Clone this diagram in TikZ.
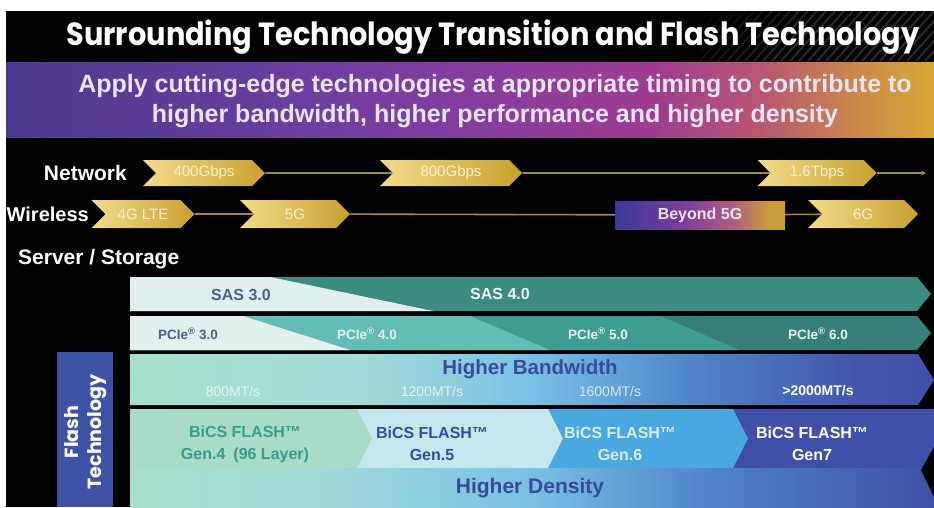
\documentclass[tikz,border=0pt]{standalone}
\usepackage{fontspec}
\setmainfont{Liberation Sans}
\newfontfamily\titlefont[FakeStretch=0.9]{Poppins}
\newfontfamily\sidefont{Poppins}
\usetikzlibrary{shapes.symbols,arrows.meta}

\definecolor{pb1}{HTML}{4B3A8C}
\definecolor{pb2}{HTML}{6B3EA0}
\definecolor{pb3}{HTML}{8A3D9E}
\definecolor{pb4}{HTML}{A03C90}
\definecolor{pb5}{HTML}{B85A70}
\definecolor{pb6}{HTML}{CC8A48}
\definecolor{pb7}{HTML}{D8A838}
\definecolor{subtext}{HTML}{ECE4F4}
\definecolor{goldL}{HTML}{F2DC8A}
\definecolor{goldR}{HTML}{C9A030}
\definecolor{goldtext}{HTML}{FBF2CC}
\definecolor{goldlinec}{HTML}{A08A40}
\definecolor{by1}{HTML}{3A3A96}
\definecolor{by2}{HTML}{7A3C9C}
\definecolor{by3}{HTML}{B06080}
\definecolor{by4}{HTML}{C89C38}
\definecolor{saslight}{HTML}{DFF0EE}
\definecolor{sasdark}{HTML}{3D8A80}
\definecolor{pcielight}{HTML}{E2F0EE}
\definecolor{pciefour}{HTML}{64BDB4}
\definecolor{pciefive}{HTML}{3E9C90}
\definecolor{pciesix}{HTML}{357F78}
\definecolor{slatetext}{HTML}{4D5F8E}
\definecolor{bw1}{HTML}{A6E0CC}
\definecolor{bw2}{HTML}{A4DCD8}
\definecolor{bw3}{HTML}{78C0E4}
\definecolor{bw4}{HTML}{4F84C8}
\definecolor{bw5}{HTML}{4356AD}
\definecolor{bw6}{HTML}{4050A8}
\definecolor{genfour}{HTML}{A8DCC8}
\definecolor{genfive}{HTML}{C4E8EE}
\definecolor{gensix}{HTML}{4AA8E0}
\definecolor{genseven}{HTML}{3E50A8}
\definecolor{navytext}{HTML}{3A4B9E}
\definecolor{tealtext}{HTML}{3A9D8C}
\definecolor{flashblue}{HTML}{3E52A6}

\pgfdeclarehorizontalshading{purpleband}{100bp}{color(0bp)=(pb1); color(25bp)=(pb1); color(41bp)=(pb2); color(52bp)=(pb3); color(60bp)=(pb4); color(66bp)=(pb5); color(71bp)=(pb6); color(75bp)=(pb7); color(100bp)=(pb7)}
\pgfdeclarehorizontalshading{beyondband}{100bp}{color(0bp)=(by1); color(25bp)=(by1); color(45bp)=(by2); color(60bp)=(by3); color(70bp)=(by4); color(75bp)=(by4); color(100bp)=(by4)}
\pgfdeclarehorizontalshading{bandwidthband}{100bp}{color(0bp)=(bw1); color(25bp)=(bw1); color(39bp)=(bw2); color(50bp)=(bw3); color(60bp)=(bw4); color(70bp)=(bw5); color(75bp)=(bw6); color(100bp)=(bw6)}
\pgfdeclarehorizontalshading{densityband}{100bp}{color(0bp)=(bw1); color(25bp)=(bw1); color(36bp)=(bw2); color(50bp)=(bw3); color(61bp)=(bw4); color(75bp)=(bw6); color(100bp)=(bw6)}

\pgfdeclarelayer{bgfill}
\pgfdeclarelayer{back}
\pgfsetlayers{bgfill,back,main}

\tikzset{
	rowlabel/.style={text=white, font=\fontsize{20}{22}\selectfont\bfseries, inner sep=0pt},
	goldarrow/.style={signal, signal to=east, signal from=west, signal pointer angle=90,
		left color=goldL, right color=goldR, text=goldtext, minimum height=26pt, inner sep=0pt,
		font=\fontsize{15}{17}\selectfont},
	goldline/.style={draw=goldlinec, line width=1.6pt},
	hatchline/.style={draw=white!16!black, line width=2pt},
	bandtext/.style={font=\fontsize{16}{18}\selectfont\bfseries, inner sep=0pt},
	ratetext/.style={font=\fontsize{14}{16}\selectfont, inner sep=0pt},
	gentext/.style={font=\fontsize{16}{22}\selectfont\bfseries, align=center, inner sep=0pt},
}

\begin{document}
\begin{tikzpicture}[x=1pt,y=-1pt]
		\useasboundingbox (0,0) rectangle (934,507);
		\begin{pgfonlayer}{bgfill}
			\fill[white] (0,0) rectangle (934,507);
			\fill[black] (6,11) rectangle (934,507);
		\end{pgfonlayer}
		
		% title
		\begin{scope}
			\clip (700,11) rectangle (934,61);
			\foreach \x in {700,709,...,1000}
				\draw[hatchline, opacity={min(1,(\x-700)/120)}] (\x,11) -- ++(-45,50);
		\end{scope}
		\node (title) at (493,37) {\titlefont\bfseries\fontsize{32}{34}\selectfont\color{white}Surrounding Technology Transition and Flash Technology};
		
		\shade[shading=purpleband] (6,62) rectangle (934,137);
		\node[text=subtext, align=center, font=\fontsize{25}{30}\selectfont\bfseries] (subtitle) at (495,101) {Apply cutting-edge technologies at appropriate timing to contribute to\\higher bandwidth, higher performance and higher density};
		
		% network / wireless
		\node[rowlabel, anchor=east, font=\fontsize{21}{22}\selectfont\bfseries] (network) at (127,173) {Network};
		\node[goldarrow, minimum width=122pt] (n400) at (204,173) {400Gbps};
		\node[goldarrow, minimum width=142pt] (n800) at (451,173) {800Gbps};
		\node[goldarrow, minimum width=119pt] (n16t) at (817,173) {1.6Tbps};
		\coordinate (netend) at (926,173);
		
		\node[rowlabel, anchor=east] (wireless) at (89,214) {Wireless};
		\node[goldarrow, minimum width=103pt, minimum height=28pt] (w4g) at (143,214) {4G LTE};
		\node[goldarrow, minimum width=110pt, minimum height=28pt] (w5g) at (295,214) {5G};
		\node[shading=beyondband, minimum width=170pt, minimum height=28pt, inner sep=0pt, text=subtext, font=\fontsize{16}{18}\selectfont\bfseries] (wbeyond) at (700,215) {Beyond 5G};
		\node[goldarrow, minimum width=110pt, minimum height=28pt] (w6g) at (863,214) {6G};
		
		\begin{pgfonlayer}{back}
			\draw[goldline] (n400) -- (n800) -- (n16t);
			\draw[goldline] (w4g) -- (w5g) -- (wbeyond) -- (w6g);
		\end{pgfonlayer}
		\draw[goldline, -{Stealth[length=5pt,width=5pt]}] (n16t.east) -- (netend);
		
		\node[rowlabel, anchor=west, font=\fontsize{21}{22}\selectfont\bfseries] (server) at (18,259) {Server / Storage};
		
		% SAS
		\fill[sasdark] (130,277) -- (917,277) -- (931,294) -- (917,311) -- (130,311) -- cycle;
		\fill[saslight] (130,277) -- (270,277) -- (433,311) -- (130,311) -- cycle;
		\node[bandtext, text=slatetext] (sas3) at (241,295) {SAS 3.0};
		\node[bandtext, text=white!92!sasdark] (sas4) at (500,294) {SAS 4.0};
		
		% PCIe
		\fill[pciesix] (130,316) -- (917,316) -- (931,333) -- (917,350) -- (130,350) -- cycle;
		\fill[pciefive] (130,316) -- (660,316) -- (740,350) -- (130,350) -- cycle;
		\fill[pciefour] (130,316) -- (470,316) -- (550,350) -- (130,350) -- cycle;
		\fill[pcielight] (130,316) -- (243,316) -- (350,350) -- (130,350) -- cycle;
		\node[bandtext, text=slatetext, font=\fontsize{13.5}{16}\selectfont\bfseries] (pcie3) at (188,334) {PCIe\textsuperscript{\textregistered} 3.0};
		\node[bandtext, text=white!80!pciefour, font=\fontsize{13.5}{16}\selectfont\bfseries] (pcie4) at (367,334) {PCIe\textsuperscript{\textregistered} 4.0};
		\node[bandtext, text=white!92!pciefive, font=\fontsize{13.5}{16}\selectfont\bfseries] (pcie5) at (598,334) {PCIe\textsuperscript{\textregistered} 5.0};
		\node[bandtext, text=white!92!pciesix, font=\fontsize{13.5}{16}\selectfont\bfseries] (pcie6) at (818,334) {PCIe\textsuperscript{\textregistered} 6.0};
		
		% flash technology
		\fill[flashblue] (57,352) rectangle (113,507);
		\node[rotate=90, align=center, text=white, font=\sidefont\bfseries\fontsize{19}{23}\selectfont] (flashtech) at (86,432) {Flash\\Technology};
		
		\shade[shading=bandwidthband] (130,354) -- (918,354) -- (934,380) -- (918,405) -- (130,405) -- cycle;
		\node[text=navytext, font=\fontsize{20.5}{22}\selectfont\bfseries] (bandwidth) at (530,369) {Higher Bandwidth};
		\node[ratetext, text=white!70!bw1] (mt800) at (233,391) {800MT/s};
		\node[ratetext, text=white!70!bw2] (mt1200) at (432,391) {1200MT/s};
		\node[ratetext, text=white!70!bw3] (mt1600) at (610,391) {1600MT/s};
		\node[ratetext, text=white, font=\fontsize{14}{16}\selectfont\bfseries] (mt2000) at (818,391) {>2000MT/s};
		
		\shade[shading=densityband] (130,466) rectangle (934,507);
		\fill[genseven] (733,409) -- (934,409) -- (934,468) -- (733,468) -- cycle;
		\fill[gensix] (548,409) -- (733,409) -- (748,438.5) -- (733,468) -- (548,468) -- cycle;
		\fill[genfive] (357,409) -- (548,409) -- (563,438.5) -- (548,468) -- (357,468) -- cycle;
		\fill[genfour] (130,409) -- (357,409) -- (372,438.5) -- (357,468) -- (130,468) -- cycle;
		\fill[black] (934,447) -- (921,470) -- (934,497) -- cycle;
		\node[gentext, text=tealtext] (gen4) at (245,444) {BiCS FLASH\texttrademark\\Gen.4\enspace(96 Layer)};
		\node[gentext, text=navytext] (gen5) at (432,444) {BiCS FLASH\texttrademark\\Gen.5};
		\node[gentext, text=white!80!gensix] (gen6) at (620,444) {BiCS FLASH\texttrademark\\Gen.6};
		\node[gentext, text=white] (gen7) at (812,444) {BiCS FLASH\texttrademark\\Gen7};
		\node[text=navytext, font=\fontsize{21}{23}\selectfont\bfseries] (density) at (530,488) {Higher Density};
		
		\end{tikzpicture}
\end{document}
